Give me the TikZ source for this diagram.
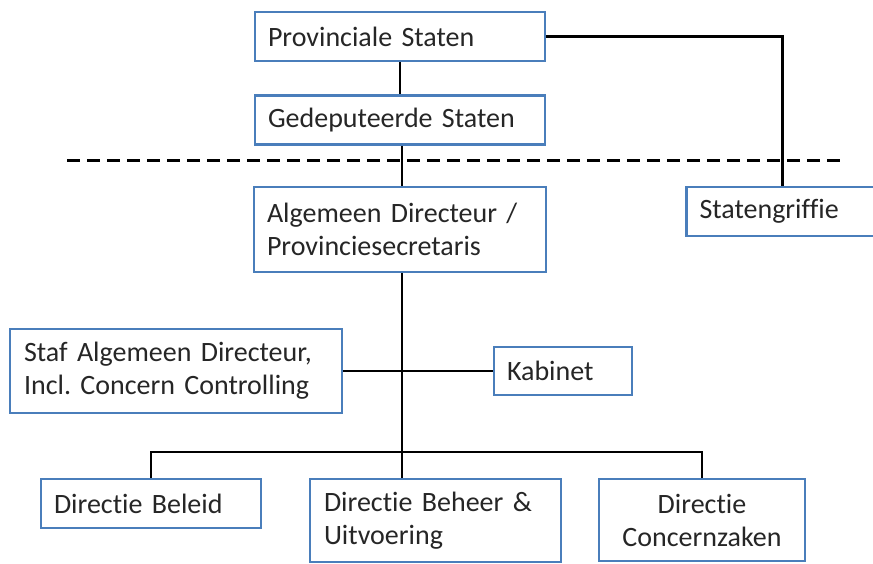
\documentclass[tikz,border=0pt]{standalone}
\usepackage{fontspec}
\setmainfont{Carlito}[Ligatures=NoCommon]
\frenchspacing
\usetikzlibrary{positioning}
\definecolor{boxblue}{HTML}{4A7EBB}
\definecolor{textgrey}{HTML}{262626}
\tikzset{
    box/.style={draw=boxblue, line width=2.5pt, fill=white, text=textgrey,
        inner xsep=13pt, inner ysep=0pt, align=left, text width=#1,
        font=\fontsize{28}{33}\selectfont},
    link/.style={line width=2.7pt},
    divider/.style={line width=3pt, dash pattern=on 13pt off 7pt}
}

\begin{document}
\begin{tikzpicture}[x=1pt,y=-1pt]
\useasboundingbox (0,0) rectangle (873,563);

% bestuur
\node[box=264pt, minimum height=49pt] (ps) at (400,36.5) {Provinciale Staten};
\node[box=264pt, minimum height=49pt, below=32pt of ps] (gs) {Gedeputeerde Staten};
\node[box=166pt, minimum height=49pt] (sg) at (782.5,211.5) {Statengriffie};

% scheiding bestuur / ambtelijk
\coordinate (dashL) at (67,160);
\coordinate (dashR) at (843,160);
\draw[divider] (dashL) -- (dashR);

% ambtelijke organisatie
\node[box=266pt, minimum height=85pt] (ad) at (400,229.5)
    {Algemeen Directeur /\\Provinciesecretaris};
\node[box=304pt, minimum height=84pt, inner xsep=14pt] (staf) at (176,371)
    {Staf Algemeen Directeur,\\Incl. Concern Controlling};
\node[box=112pt, minimum height=48pt] (kab) at (563,371) {Kabinet};
\node[box=194pt, minimum height=49pt] (beleid) at (151,503.5) {Directie Beleid};
\node[box=223pt, minimum height=83pt, inner xsep=14pt] (beheer) at (435.5,520.5)
    {Directie Beheer \&\\Uitvoering};
\node[box=180pt, minimum height=82pt, align=center] (concern) at (702,520)
    {Directie\\Concernzaken};

\coordinate (bus) at (402,452);

\draw[link] (ps) -- (gs);
\draw[link] (ps.east) -| (sg.north);
\draw[link] (gs.south -| bus) -- (ad.north -| bus);
\draw[link] (ad.south -| bus) -- (beheer.north -| bus);
\draw[link] (staf.east) -- (kab.west);
\draw[link] (beleid.north) |- (bus) -| (concern.north);
\end{tikzpicture}
\end{document}
